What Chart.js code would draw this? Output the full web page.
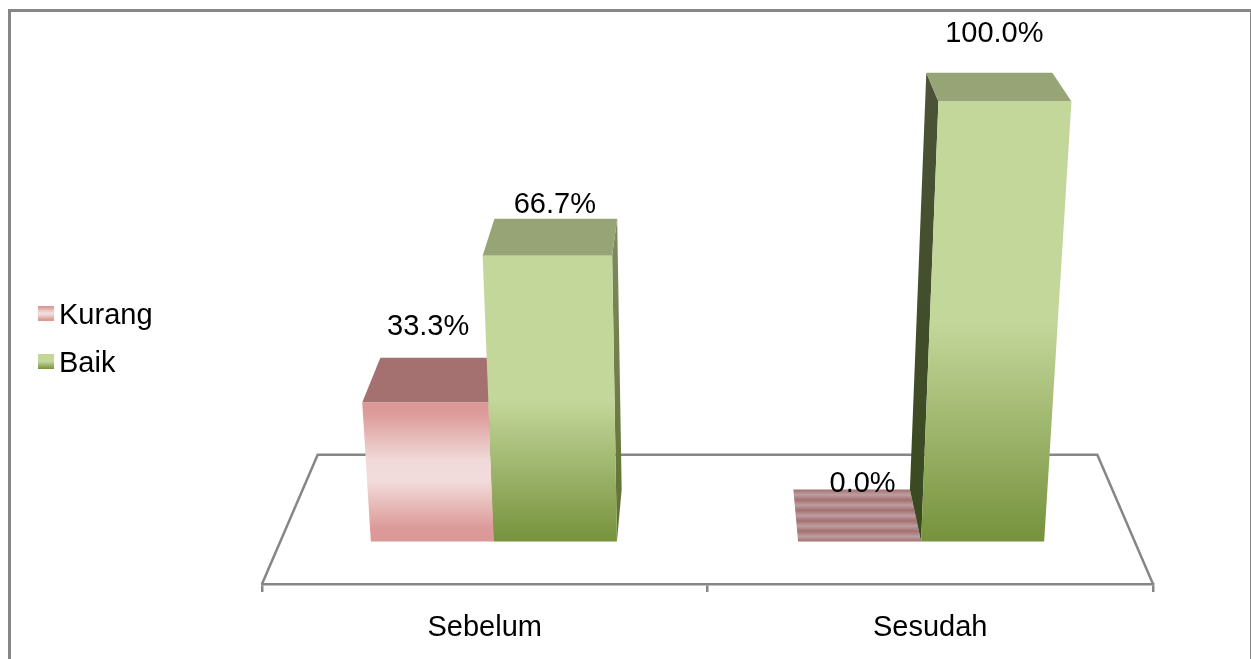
<!DOCTYPE html>
<html>
<head>
<meta charset="utf-8">
<title>Kurang / Baik</title>
<style>
  html, body { margin: 0; padding: 0; background: #fff; }
  canvas { display: block; }
</style>
<script src="https://cdn.jsdelivr.net/npm/chart.js@4"></script>
</head>
<body>
<canvas id="resultsChart" width="1251" height="659"></canvas>
<script>
'use strict';
var categories = ['Sebelum', 'Sesudah'];
var seriesNames = ['Kurang', 'Baik'];
var kurangValues = [33.3, 0];
var baikValues = [66.7, 100];

var FONT = '"Liberation Sans", Arial, sans-serif';
var FONT_SIZE = 29;

// vanishing point of the floor and the front plane the bars stand on
var VP = { x: 707.5, y: -450 };
var FRONT_PLANE = 0.959;   // how far the bars sit behind the front floor edge
var BAR_DEPTH = 0.9475;    // back of a box relative to its front
var FLOOR_BACK = 0.875;    // back floor edge relative to the front one
var RISE = 0.075;          // foreshortening of the value axis
var BAR_HEIGHT = 440;      // pixels from 0 to 100 on the front plane

var PINK = { top: '#a57070', stops: [[0, '#da9896'], [0.08, '#dc9b99'], [0.42, '#f0dbda'], [0.56, '#f2dcdb'], [0.9, '#dc9b99'], [1, '#da9896']] };
var GREEN = { top: '#97a475', stops: [[0, '#c4d79b'], [0.5, '#c4d79b'], [1, '#76923c']] };
var SIDE_LIGHT = ['#7f8b62', '#5f7230'];
var SIDE_DARK = ['#4c5339', '#39491e'];
var seriesStyles = [PINK, GREEN];

// data label nudges from the centre of each box's back edge: [series][category]
var labelNudge = [
  [[-12, -31], [11, -6]],
  [[-1, -14], [5, -39]]
];

function toBack(p, k) {
  return { x: VP.x + (p.x - VP.x) * k, y: VP.y + (p.y - VP.y) * k };
}

// turns a point of the flat scales into the tilted view
function project(area, x, y) {
  var t = (area.bottom - y) / area.height;
  var k = 1 / (1 - RISE * t);
  var baseY = VP.y + (area.bottom - VP.y) * FRONT_PLANE;
  return {
    x: VP.x + (x - VP.x) * FRONT_PLANE * k,
    y: baseY - BAR_HEIGHT * (1 - RISE) * t * k
  };
}

function poly(ctx, pts, fill) {
  ctx.beginPath();
  ctx.moveTo(pts[0].x, pts[0].y);
  for (var i = 1; i < pts.length; i++) {
    ctx.lineTo(pts[i].x, pts[i].y);
  }
  ctx.closePath();
  ctx.fillStyle = fill;
  ctx.fill();
}

function vertical(ctx, y0, y1, stops) {
  var g = ctx.createLinearGradient(0, y0, 0, y1);
  for (var i = 0; i < stops.length; i++) {
    g.addColorStop(stops[i][0], stops[i][1]);
  }
  return g;
}

// the top of an empty bar shows as bands of two colours
function stripes(ctx, y0, y1) {
  var g = ctx.createLinearGradient(0, y0, 0, y1);
  var bands = 5;
  for (var i = 0; i < bands; i++) {
    g.addColorStop(i / bands, '#a56f6f');
    g.addColorStop((i + 0.5) / bands, '#bc9ea1');
    g.addColorStop((i + 1) / bands, '#a56f6f');
  }
  return g;
}

function drawBox(ctx, area, bar, style) {
  var half = bar.width / 2;
  var lb = project(area, bar.x - half, bar.base);
  var rb = project(area, bar.x + half, bar.base);
  var lt = project(area, bar.x - half, bar.y);
  var rt = project(area, bar.x + half, bar.y);
  var blt = toBack(lt, BAR_DEPTH);
  var brt = toBack(rt, BAR_DEPTH);
  var empty = Math.abs(bar.base - bar.y) < 0.5;

  if (!empty) {
    if (rb.x < VP.x) {
      poly(ctx, [rt, brt, toBack(rb, BAR_DEPTH), rb], vertical(ctx, brt.y, rb.y, SIDE_LIGHT.map(function (c, i) { return [i, c]; })));
    } else if (lb.x > VP.x) {
      poly(ctx, [lt, blt, toBack(lb, BAR_DEPTH), lb], vertical(ctx, blt.y, lb.y, SIDE_DARK.map(function (c, i) { return [i, c]; })));
    }
  }
  poly(ctx, [lt, blt, brt, rt], empty ? stripes(ctx, blt.y, lt.y) : style.top);
  if (!empty) {
    poly(ctx, [lb, lt, rt, rb], vertical(ctx, lt.y, lb.y, style.stops));
  }
}

var scene = {
  id: 'scene',
  // frame and floor, under the bars
  beforeDatasetsDraw: function (chart) {
    var ctx = chart.ctx;
    var area = chart.chartArea;
    ctx.save();
    ctx.strokeStyle = '#868686';
    ctx.lineWidth = 3;
    ctx.strokeRect(9.5, 10.5, 1242, 660);
    ctx.lineWidth = 2.5;
    var left = { x: area.left, y: area.bottom };
    var right = { x: area.right, y: area.bottom };
    var backLeft = toBack(left, FLOOR_BACK);
    var backRight = toBack(right, FLOOR_BACK);
    ctx.beginPath();
    ctx.moveTo(left.x, left.y);
    ctx.lineTo(backLeft.x, backLeft.y);
    ctx.lineTo(backRight.x, backRight.y);
    ctx.lineTo(right.x, right.y);
    ctx.stroke();
    ctx.restore();
  },
  afterDatasetsDraw: function (chart) {
    var ctx = chart.ctx;
    var area = chart.chartArea;
    ctx.save();
    chart.data.datasets.forEach(function (ds, s) {
      chart.getDatasetMeta(s).data.forEach(function (bar) {
        drawBox(ctx, area, bar, seriesStyles[s]);
      });
    });

    // value labels
    ctx.font = FONT_SIZE + 'px ' + FONT;
    ctx.fillStyle = '#000';
    ctx.textAlign = 'center';
    ctx.textBaseline = 'middle';
    chart.data.datasets.forEach(function (ds, s) {
      chart.getDatasetMeta(s).data.forEach(function (bar, c) {
        var half = bar.width / 2;
        var a = toBack(project(area, bar.x - half, bar.y), BAR_DEPTH);
        var b = toBack(project(area, bar.x + half, bar.y), BAR_DEPTH);
        var text = ds.data[c].toFixed(1) + '%';
        ctx.fillText(text, (a.x + b.x) / 2 + labelNudge[s][c][0], a.y + labelNudge[s][c][1]);
      });
    });

    // legend on the left
    ctx.textAlign = 'left';
    ctx.textBaseline = 'alphabetic';
    seriesNames.forEach(function (name, s) {
      var y = 306 + s * 48;
      ctx.fillStyle = vertical(ctx, y, y + 15, seriesStyles[s].stops);
      ctx.fillRect(38, y, 16, 15);
      ctx.fillStyle = '#000';
      ctx.fillText(name, 59, y + 18);
    });
    ctx.restore();
  }
};

new Chart(document.getElementById('resultsChart').getContext('2d'), {
  type: 'bar',
  data: {
    labels: categories,
    datasets: [
      { label: seriesNames[0], data: kurangValues, backgroundColor: 'transparent' },
      { label: seriesNames[1], data: baikValues, backgroundColor: 'transparent' }
    ]
  },
  options: {
    responsive: false,
    animation: false,
    layout: { padding: { left: 262, right: 98, top: 102, bottom: 0 } },
    plugins: { legend: { display: false }, tooltip: { enabled: false } },
    datasets: { bar: { categoryPercentage: 0.576, barPercentage: 1 } },
    scales: {
      x: {
        afterFit: function (scale) { scale.height = 75; },
        grid: { drawOnChartArea: false, color: '#868686', lineWidth: 2.5, tickLength: 8 },
        border: { color: '#868686', width: 2.5 },
        ticks: { color: '#000', font: { family: FONT, size: FONT_SIZE }, padding: 19, maxRotation: 0 }
      },
      y: { display: false, min: 0, max: 100 }
    }
  },
  plugins: [scene]
});
</script>
</body>
</html>
